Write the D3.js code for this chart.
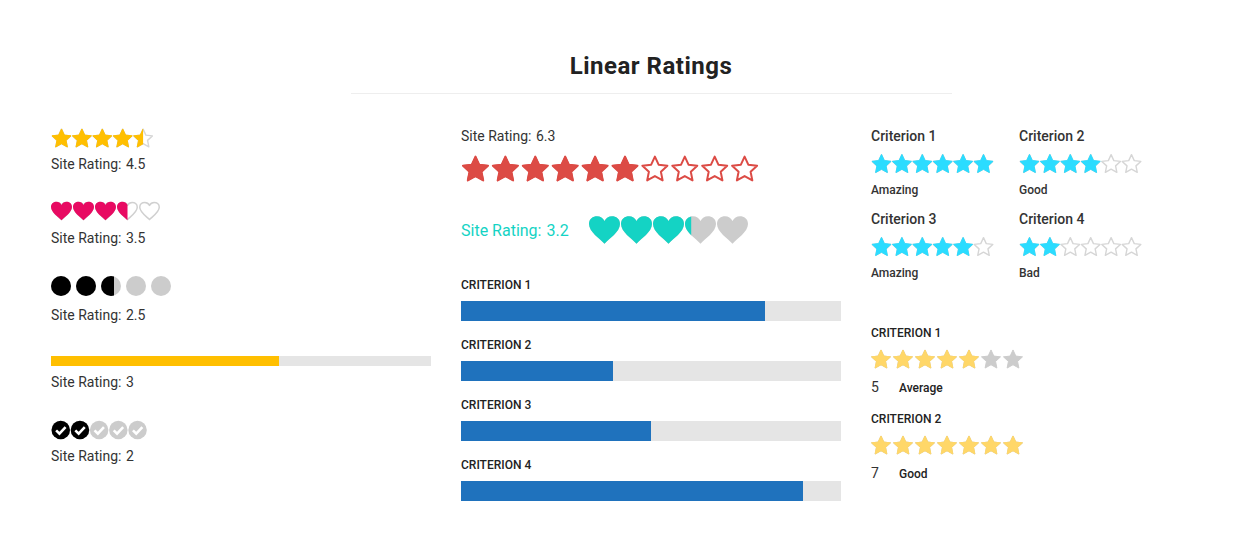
<!DOCTYPE html>
<html><head><meta charset="utf-8">
<script src="https://cdnjs.cloudflare.com/ajax/libs/d3/7.8.5/d3.min.js"></script>
<style>
html,body{margin:0;padding:0;background:#fff}
svg{display:block}
text{font-family:Roboto,sans-serif}
</style></head><body>
<svg id="c" width="1244" height="555"></svg>
<script>
const title = "Linear Ratings";
const siteLabel = "Site Rating:";
const leftValues = [4.5, 3.5, 2.5, 3, 2];
const leftFill = [4.5, 3.5, 2.65, 3, 2];
const redValue = 6.3;
const tealValue = 3.2;
const barCategories = ["CRITERION 1", "CRITERION 2", "CRITERION 3", "CRITERION 4"];
const barValues = [8, 4, 5, 9];
const gridCategories = ["Criterion 1", "Criterion 2", "Criterion 3", "Criterion 4"];
const gridValues = [6, 4, 5, 2];
const gridLabels = ["Amazing", "Good", "Amazing", "Bad"];
const lowerCategories = ["CRITERION 1", "CRITERION 2"];
const lowerValues = [5, 7];
const lowerLabels = ["Average", "Good"];

const svg = d3.select("#c");
const defs = svg.append("defs");
let clipId = 0;

const starPath = w => {
  const r = w / 1.902, ir = r * .48, off = r * .095;
  const pts = d3.range(10).map(i => {
    const a = i * Math.PI / 5, rr = i % 2 ? ir : r;
    return [rr * Math.sin(a), off - rr * Math.cos(a)];
  });
  return d3.line()(pts) + "Z";
};
starPath.rounded = true;
const heartPath = w => {
  const k = w / 2, f = v => (v * k).toFixed(2);
  return `M0 ${f(.88)}C${f(-.3)} ${f(.58)} ${f(-1)} ${f(.12)} ${f(-1)} ${f(-.38)}C${f(-1)} ${f(-.72)} ${f(-.74)} ${f(-.88)} ${f(-.48)} ${f(-.88)}C${f(-.27)} ${f(-.88)} ${f(-.1)} ${f(-.77)} 0 ${f(-.58)}C${f(.1)} ${f(-.77)} ${f(.27)} ${f(-.88)} ${f(.48)} ${f(-.88)}C${f(.74)} ${f(-.88)} ${f(1)} ${f(-.72)} ${f(1)} ${f(-.38)}C${f(1)} ${f(.12)} ${f(.3)} ${f(.58)} 0 ${f(.88)}Z`;
};
const circlePath = w => d3.arc()({innerRadius:0, outerRadius:w/2, startAngle:0, endAngle:2*Math.PI});

// Row of glyphs with a fractional filled part, positioned by a linear scale.
function glyphRow({x, y, n, step, w, value, shape, on, off, outline, strokeW=1.6, check=false}) {
  const sc = d3.scaleLinear().domain([0, n]).range([x, x + n * step]);
  const id = "clip" + (++clipId);
  const whole = Math.floor(value);
  defs.append("clipPath").attr("id", id).append("rect")
    .attr("x", x - 2).attr("y", y - w)
    .attr("width", sc(whole) + (value - whole) * w - x + 2).attr("height", w * 2);
  const items = d3.range(n);
  const g = svg.append("g");
  const cx = i => sc(i) + w / 2;
  const round = shape.rounded ? 1 : 0;
  g.selectAll(null).data(items).join("path")
    .attr("d", shape(outline ? w - strokeW : w - round))
    .attr("transform", i => `translate(${cx(i)},${y})`)
    .attr("fill", outline ? "#fff" : off)
    .attr("stroke", outline ? off : (round ? off : "none"))
    .attr("stroke-width", outline ? strokeW : round)
    .attr("stroke-linejoin", "round");
  g.append("g").attr("clip-path", `url(#${id})`)
    .selectAll("path").data(items).join("path")
    .attr("d", shape(w - round))
    .attr("transform", i => `translate(${cx(i)},${y})`)
    .attr("fill", on)
    .attr("stroke", round ? on : "none")
    .attr("stroke-width", round)
    .attr("stroke-linejoin", "round");
  if (check) {
    g.selectAll(null).data(items).join("path")
      .attr("d", `M${-w*.25} ${w*.02}L${-w*.07} ${w*.2}L${w*.26} ${-w*.15}`)
      .attr("transform", i => `translate(${cx(i)},${y})`)
      .attr("fill", "none").attr("stroke", "#fff").attr("stroke-width", w * .14);
  }
}
function label(x, y, txt, o = {}) {
  return svg.append("text").attr("x", x).attr("y", y).text(txt)
    .attr("font-size", o.size || 14).attr("font-weight", o.weight || 400)
    .attr("letter-spacing", o.spacing || 0)
    .attr("fill", o.fill || "#333").attr("text-anchor", o.anchor || "start");
}
function site(x, y, v, o = {}) {
  const t = label(x, y, siteLabel, o);
  t.append("tspan").attr("dx", (o.size || 14) * .32).text(v);
}
function hbar(x, y, width, h, value, max, color) {
  const sc = d3.scaleLinear().domain([0, max]).range([x, x + width]);
  svg.append("rect").attr("x", x).attr("y", y).attr("width", width).attr("height", h).attr("fill", "#e5e5e5");
  svg.append("rect").attr("x", x).attr("y", y).attr("width", sc(value) - x).attr("height", h).attr("fill", color);
}

// Header
label(651, 74, title, {size: 24, weight: 700, anchor: "middle", fill: "#222", spacing: .5});
svg.append("line").attr("x1", 351).attr("x2", 952).attr("y1", 93.5).attr("y2", 93.5).attr("stroke", "#eee");

// Left column
glyphRow({x:51.5, y:138, n:5, step:20.4, w:20, value:leftFill[0], shape:starPath, on:"#ffbf00", off:"#d6d6d6", outline:true, strokeW:1.4});
site(51, 169, leftValues[0]);
glyphRow({x:51, y:211, n:5, step:22, w:21, value:leftFill[1], shape:heartPath, on:"#e80a62", off:"#d0d0d0", outline:true, strokeW:1.5});
site(51, 243, leftValues[1]);
glyphRow({x:51, y:286, n:5, step:25, w:20, value:leftFill[2], shape:circlePath, on:"#000", off:"#ccc"});
site(51, 320, leftValues[2]);
hbar(51, 356, 380, 10, leftValues[3], 5, "#ffbf00");
site(51, 387, leftValues[3]);
glyphRow({x:51.5, y:430, n:5, step:19.2, w:18.5, value:leftFill[4], shape:circlePath, on:"#000", off:"#ccc", check:true});
site(51, 461, leftValues[4]);

// Middle column
site(461, 141, redValue);
glyphRow({x:462, y:168.5, n:10, step:29.9, w:27, value:Math.floor(redValue), shape:starPath, on:"#dc4b45", off:"#dc4b45", outline:true, strokeW:2});
site(461, 236, tealValue, {size:16, fill:"#14d3c4"});
glyphRow({x:589, y:230, n:5, step:32, w:31, value:tealValue, shape:heartPath, on:"#14d3c4", off:"#ccc"});

const barX = 461, barW = 380;
barCategories.forEach((c, i) => {
  label(barX, 289 + i * 60, c, {size:12, weight:500, fill:"#222"});
  hbar(barX, 301 + i * 60, barW, 20, barValues[i], 10, "#1f72bd");
});

// Right column, upper grid
gridCategories.forEach((c, i) => {
  const x = 871 + (i % 2) * 148, dy = Math.floor(i / 2) * 83;
  label(x, 141 + dy, c, {size:14, weight:500});
  glyphRow({x:x + .5, y:163.5 + dy, n:6, step:20.4, w:20, value:gridValues[i], shape:starPath, on:"#2bdcff", off:"#d6d6d6", outline:true, strokeW:1.4});
  label(x, 194 + dy, gridLabels[i], {size:12, weight:500});
});

// Right column, lower list
lowerCategories.forEach((c, i) => {
  const dy = i * 86;
  label(871, 337 + dy, c, {size:12, weight:500, fill:"#222"});
  glyphRow({x:871, y:359 + dy, n:7, step:22, w:20, value:lowerValues[i], shape:starPath, on:"#ffd768", off:"#ccc"});
  label(871, 392 + dy, lowerValues[i], {size:14});
  label(899, 392 + dy, lowerLabels[i], {size:12, weight:500, fill:"#222"});
});
</script>
</body></html>
